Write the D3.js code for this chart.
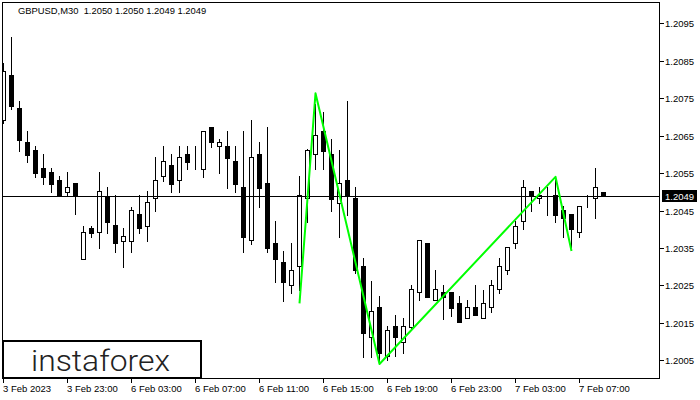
<!DOCTYPE html>
<html><head><meta charset="utf-8">
<script src="https://cdn.jsdelivr.net/npm/d3@7"></script>
<style>html,body{margin:0;padding:0;background:#fff;} svg{display:block;font-family:"Liberation Sans",Arial,sans-serif;}</style>
</head><body><svg id="c" width="700" height="400"></svg>
<script>
const times = [
"3 Feb 19:00","3 Feb 19:30","3 Feb 20:00","3 Feb 20:30","3 Feb 21:00","3 Feb 21:30","3 Feb 22:00","3 Feb 22:30","3 Feb 23:00","3 Feb 23:30",
"6 Feb 00:00","6 Feb 00:30","6 Feb 01:00","6 Feb 01:30","6 Feb 02:00","6 Feb 02:30","6 Feb 03:00","6 Feb 03:30","6 Feb 04:00","6 Feb 04:30",
"6 Feb 05:00","6 Feb 05:30","6 Feb 06:00","6 Feb 06:30","6 Feb 07:00","6 Feb 07:30","6 Feb 08:00","6 Feb 08:30","6 Feb 09:00","6 Feb 09:30",
"6 Feb 10:00","6 Feb 10:30","6 Feb 11:00","6 Feb 11:30","6 Feb 12:00","6 Feb 12:30","6 Feb 13:00","6 Feb 13:30","6 Feb 14:00","6 Feb 14:30",
"6 Feb 15:00","6 Feb 15:30","6 Feb 16:00","6 Feb 16:30","6 Feb 17:00","6 Feb 17:30","6 Feb 18:00","6 Feb 18:30","6 Feb 19:00","6 Feb 19:30",
"6 Feb 20:00","6 Feb 20:30","6 Feb 21:00","6 Feb 21:30","6 Feb 22:00","6 Feb 22:30","6 Feb 23:00","6 Feb 23:30",
"7 Feb 00:00","7 Feb 00:30","7 Feb 01:00","7 Feb 01:30","7 Feb 02:00","7 Feb 02:30","7 Feb 03:00","7 Feb 03:30","7 Feb 04:00","7 Feb 04:30",
"7 Feb 05:00","7 Feb 05:30","7 Feb 06:00","7 Feb 06:30","7 Feb 07:00","7 Feb 07:30","7 Feb 08:00","7 Feb 08:30"];

const open = [1.20692,1.20812,1.20724,1.20632,1.20612,1.20563,1.20553,1.20531,1.20499,1.20523,
1.20321,1.20403,1.20392,1.20490,1.20411,1.20369,1.20369,1.20440,1.20409,1.20483,
1.20541,1.20571,1.20531,1.20601,1.20571,1.20562,1.20673,1.20621,1.20622,1.20582,
1.20513,1.20370,1.20601,1.20523,1.20363,1.20312,1.20250,1.20301,1.20483,1.20600,
1.20662,1.20601,1.20471,1.20531,1.20483,1.20302,1.20111,1.20192,1.20062,1.20142,
1.20100,1.20140,1.20232,1.20363,1.20210,1.20232,1.20232,1.20202,1.20162,1.20192,
1.20162,1.20192,1.20240,1.20291,1.20362,1.20421,1.20501,1.20483,1.20501,1.20491,
1.20451,1.20441,1.20392,1.20472,1.20483,1.20500];
const high = [1.20844,1.20914,1.20743,1.20662,1.20622,1.20601,1.20563,1.20542,1.20552,1.20523,
1.20410,1.20410,1.20552,1.20514,1.20491,1.20402,1.20460,1.20491,1.20502,1.20593,
1.20622,1.20601,1.20622,1.20622,1.20622,1.20663,1.20674,1.20641,1.20662,1.20622,
1.20662,1.20692,1.20633,1.20673,1.20422,1.20342,1.20363,1.20542,1.20615,1.20735,
1.20712,1.20641,1.20611,1.20742,1.20514,1.20322,1.20262,1.20222,1.20142,1.20170,
1.20163,1.20251,1.20370,1.20363,1.20291,1.20251,1.20232,1.20221,1.20210,1.20251,
1.20238,1.20264,1.20323,1.20352,1.20423,1.20531,1.20501,1.20512,1.20512,1.20531,
1.20462,1.20441,1.20461,1.20491,1.20563,1.20500];
const low = [1.20684,1.20721,1.20610,1.20579,1.20540,1.20521,1.20499,1.20490,1.20490,1.20440,
1.20321,1.20380,1.20351,1.20391,1.20340,1.20300,1.20340,1.20391,1.20369,1.20449,
1.20530,1.20500,1.20500,1.20561,1.20561,1.20540,1.20620,1.20551,1.20511,1.20500,
1.20340,1.20361,1.20460,1.20340,1.20260,1.20209,1.20230,1.20238,1.20420,1.20562,
1.20562,1.20449,1.20380,1.20438,1.20282,1.20060,1.20060,1.20043,1.20051,1.20062,
1.20070,1.20130,1.20211,1.20220,1.20210,1.20161,1.20169,1.20151,1.20162,1.20170,
1.20162,1.20180,1.20231,1.20281,1.20351,1.20401,1.20449,1.20471,1.20439,1.20420,
1.20380,1.20352,1.20380,1.20460,1.20431,1.20490];
const close = [1.20822,1.20729,1.20638,1.20599,1.20551,1.20540,1.20521,1.20491,1.20513,1.20491,
1.20392,1.20391,1.20501,1.20420,1.20362,1.20382,1.20451,1.20402,1.20472,1.20531,
1.20581,1.20522,1.20592,1.20580,1.20571,1.20662,1.20632,1.20633,1.20591,1.20522,
1.20380,1.20592,1.20511,1.20351,1.20321,1.20260,1.20290,1.20491,1.20612,1.20651,
1.20610,1.20481,1.20523,1.20491,1.20291,1.20122,1.20181,1.20070,1.20131,1.20111,
1.20142,1.20240,1.20370,1.20220,1.20240,1.20220,1.20190,1.20151,1.20192,1.20170,
1.20202,1.20250,1.20301,1.20352,1.20410,1.20512,1.20491,1.20491,1.20501,1.20439,
1.20431,1.20401,1.20461,1.20472,1.20512,1.20490];

const tickTimes = ["3 Feb 19:00","3 Feb 23:00","6 Feb 03:00","6 Feb 07:00","6 Feb 11:00","6 Feb 15:00","6 Feb 19:00","6 Feb 23:00","7 Feb 03:00","7 Feb 07:00"];
const tickLabels = ["3 Feb 2023","3 Feb 23:00","6 Feb 03:00","6 Feb 07:00","6 Feb 11:00","6 Feb 15:00","6 Feb 19:00","6 Feb 23:00","7 Feb 03:00","7 Feb 07:00"];
const priceTicks = [1.2005,1.2015,1.2025,1.2035,1.2045,1.2055,1.2065,1.2075,1.2085,1.2095];

const patternTimes = ["6 Feb 13:30","6 Feb 14:30","6 Feb 18:30","7 Feb 05:30","7 Feb 06:30"];
const patternPrices = [1.20202,1.20763,1.20040,1.20540,1.20342];

const lastPrice = 1.2049;
const titleText = "GBPUSD,M30  1.2050 1.2050 1.2049 1.2049";
const logoText = "instaforex";

const svg = d3.select("#c");
const L = 2.5, T = 2.5, R = 659.5, B = 378.5;

const x = d3.scaleBand().domain(times).range([-1, 607]).padding(0);
const cx = t => Math.floor(x(t) + x.bandwidth() / 2);
const y = d3.scaleLinear().domain([1.2005, 1.2095]).range([360.3, 23.3]);
const py = v => Math.round(y(v)) + 0.5;

svg.append("clipPath").attr("id", "plot").append("rect")
  .attr("x", 3).attr("y", 3).attr("width", R - 3).attr("height", B - 3);

const data = times.map((t, i) => ({t, o: open[i], h: high[i], l: low[i], c: close[i]}));

const g = svg.append("g").attr("clip-path", "url(#plot)");

// wicks
g.selectAll("line.wick").data(data).join("line")
  .attr("x1", d => cx(d.t) + 0.5).attr("x2", d => cx(d.t) + 0.5)
  .attr("y1", d => py(d.h) - 0.5).attr("y2", d => py(d.l) + 0.5)
  .attr("stroke", "#000").attr("stroke-width", 1).attr("shape-rendering", "crispEdges");

// bodies
g.selectAll("rect.body").data(data).join("rect")
  .attr("x", d => cx(d.t) - 1.5)
  .attr("width", 4)
  .attr("y", d => Math.min(py(d.o), py(d.c)))
  .attr("height", d => Math.abs(py(d.o) - py(d.c)))
  .attr("fill", d => d.c >= d.o ? "#fff" : "#000")
  .attr("stroke", "#000").attr("stroke-width", 1).attr("shape-rendering", "crispEdges");

// current price line
g.append("line")
  .attr("x1", L).attr("x2", R)
  .attr("y1", py(lastPrice)).attr("y2", py(lastPrice))
  .attr("stroke", "#000").attr("stroke-width", 1).attr("shape-rendering", "crispEdges");

// pattern line
const pts = patternTimes.map((t, i) => [cx(t) + 0.5, y(patternPrices[i])]);
g.append("path").attr("d", d3.line()(pts))
  .attr("fill", "none").attr("stroke", "#00ff00").attr("stroke-width", 2)
  .attr("stroke-linejoin", "round");

// frame
svg.append("rect").attr("x", L).attr("y", T).attr("width", R - L).attr("height", B - T)
  .attr("fill", "none").attr("stroke", "#000").attr("stroke-width", 1).attr("shape-rendering", "crispEdges");

// y axis ticks & labels
const ya = svg.append("g");
priceTicks.forEach(p => {
  ya.append("line").attr("x1", R).attr("x2", R + 4).attr("y1", py(p)).attr("y2", py(p))
    .attr("stroke", "#000").attr("shape-rendering", "crispEdges");
  ya.append("text").attr("x", 665).attr("y", py(p)).attr("dy", "0.35em")
    .attr("font-size", "9.5px").attr("fill", "#000").text(p.toFixed(4));
});
// last price label
ya.append("rect").attr("x", 662).attr("y", py(lastPrice) - 6.5).attr("width", 35).attr("height", 12).attr("fill", "#000");
ya.append("text").attr("x", 665).attr("y", py(lastPrice)).attr("dy", "0.35em")
  .attr("font-size", "9.5px").attr("fill", "#fff").text(lastPrice.toFixed(4));

// x axis ticks & labels
const xa = svg.append("g");
tickTimes.forEach((t, i) => {
  const xx = cx(t) + 0.5;
  xa.append("line").attr("x1", xx).attr("x2", xx).attr("y1", B).attr("y2", B + 4)
    .attr("stroke", "#000").attr("shape-rendering", "crispEdges");
  xa.append("text").attr("x", cx(t)).attr("y", 392)
    .attr("font-size", "9.5px").attr("fill", "#000").text(tickLabels[i]);
});

// title
svg.append("text").attr("x", 18).attr("y", 14).attr("font-size", "9.4px")
  .attr("fill", "#000").style("white-space", "pre").text(titleText);

// logo
svg.append("rect").attr("x", 3).attr("y", 341).attr("width", 198).attr("height", 37)
  .attr("fill", "#fff").attr("stroke", "#000").attr("stroke-width", 2);
svg.append("text").attr("x", 31).attr("y", 371)
  .attr("font-family", "Roboto, 'DejaVu Sans', sans-serif").attr("font-weight", 300)
  .attr("font-size", "30px").attr("fill", "#222")
  .attr("textLength", 139).attr("lengthAdjust", "spacingAndGlyphs").text(logoText);
</script></body></html>
